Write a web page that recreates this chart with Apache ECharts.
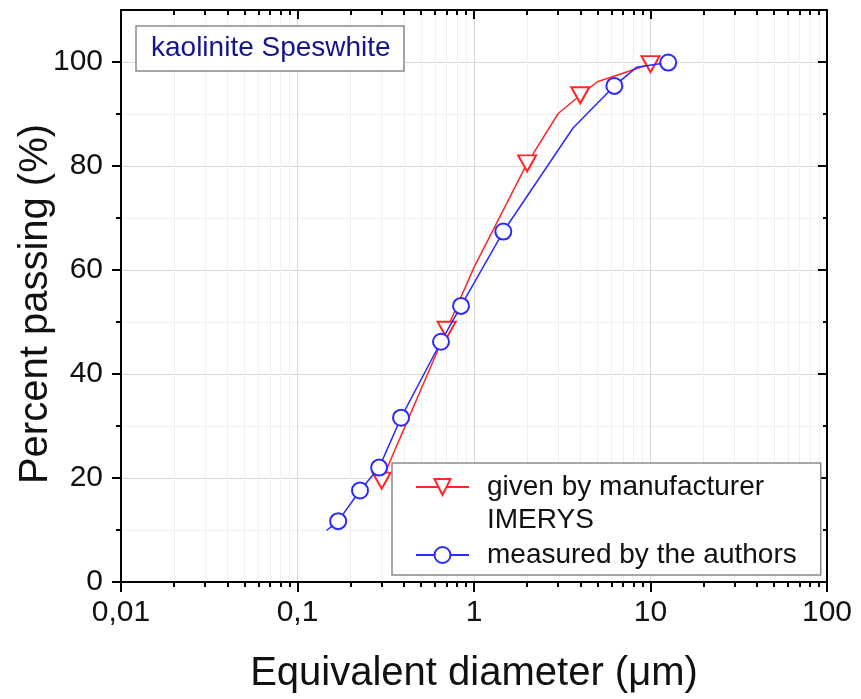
<!DOCTYPE html>
<html><head><meta charset="utf-8">
<script src="https://cdn.jsdelivr.net/npm/echarts@6/dist/echarts.min.js"></script>
<style>html,body{margin:0;padding:0;background:#fff}#c{width:861px;height:699px}</style>
</head><body><div id="c"></div>
<script>
const FONT = '"Liberation Sans", Arial, Helvetica, sans-serif';

// ---- tick definitions ----
const xTickLabels = ['0,01', '0,1', '1', '10', '100'];
const xDecadesLog = [-2, -1, 0, 1, 2];
const xDecadeStarts = [0.01, 0.1, 1, 10];
const xMinorMult = [2, 3, 4, 5, 6, 7, 8, 9];
const yTicks = [0, 20, 40, 60, 80, 100];
const yMinorTicks = [10, 30, 50, 70, 90];

// ---- data: given by manufacturer IMERYS ----
const manufacturerX = [0.3, 0.7, 1, 2, 3, 4, 5, 10];
const manufacturerY = [19.5, 48.5, 60.5, 80.5, 90.1, 93.6, 96.2, 99.6];
const manufacturerMarker = [1, 1, 0, 1, 0, 1, 0, 1];

// ---- data: measured by the authors ----
const authorsX = [0.146, 0.17, 0.226, 0.29, 0.386, 0.65, 0.844, 1.466, 3.64, 6.24, 8.36, 12.6];
const authorsY = [9.9, 11.7, 17.6, 22.0, 31.6, 46.2, 53.1, 67.4, 87.3, 95.4, 99.0, 99.9];
const authorsMarker = [0, 1, 1, 1, 1, 1, 1, 1, 0, 1, 0, 1];

const seriesNames = ['given by manufacturer', 'measured by the authors'];
const extraLegendLine = 'IMERYS';
const titleText = 'kaolinite Speswhite';
const xName = 'Equivalent diameter (\u03bcm)';
const yName = 'Percent passing (%)';

const xMinorLog = [];
xDecadeStarts.forEach(d => xMinorMult.forEach(m => xMinorLog.push(Math.log10(d * m))));

function buildData(xs, ys, marks) {
  return xs.map((x, i) => marks[i] ? { value: [x, ys[i]] } : { value: [x, ys[i]], symbol: 'none' });
}

const RED = '#ff2626';
const BLUE = '#2a2aff';
const AX = { color: '#000', width: 2 };
const LINE = (show) => ({ show: show, onZero: false, lineStyle: AX });

const chart = echarts.init(document.getElementById('c'), null, { renderer: 'canvas' });
chart.setOption({
  animation: false,
  backgroundColor: '#fff',
  title: {
    text: titleText, left: 136, top: 26, padding: [7, 14, 7, 15],
    borderColor: '#8a8a8a', borderWidth: 1.5, backgroundColor: '#fff',
    textStyle: { fontSize: 28, fontWeight: 'normal', color: '#14148c', fontFamily: FONT, lineHeight: 31 }
  },
  grid: { left: 121, right: 34, top: 10, bottom: 117, containLabel: false, outerBoundsMode: 'none' },
  legend: {
    orient: 'vertical', left: 392, top: 463, padding: [9, 24, 5, 23],
    itemWidth: 53, itemHeight: 20, itemGap: 38, selectedMode: false,
    borderColor: '#8a8a8a', borderWidth: 1.5, backgroundColor: '#fff',
    textStyle: { fontSize: 28, lineHeight: 30, fontFamily: FONT, color: '#111', padding: [0, 0, 0, 13] },
    data: seriesNames
  },
  graphic: [{
    type: 'text', x: 487, y: 520, z: 100,
    style: { text: extraLegendLine, fontSize: 28, fontFamily: FONT, fill: '#111', verticalAlign: 'middle' }
  }],
  xAxis: [
    {
      type: 'log', logBase: 10, min: 0.01, max: 100, position: 'bottom',
      axisLine: LINE(true),
      axisTick: { show: true, inside: false, length: 10, lineStyle: AX },
      minorTick: { show: false },
      axisLabel: {
        fontSize: 30, margin: 16, color: '#111', fontFamily: FONT,
        formatter: v => xTickLabels[Math.round(Math.log10(v)) + 2]
      },
      splitLine: { show: true, lineStyle: { color: '#d8d8d8', width: 1 } },
      name: xName, nameLocation: 'middle', nameGap: 72, nameMoveOverlap: false,
      nameTextStyle: { fontSize: 40, fontFamily: FONT, color: '#111' }
    },
    {
      type: 'value', min: -2, max: 2, position: 'bottom',
      axisLine: LINE(false),
      axisTick: { show: true, inside: false, length: 5, customValues: xMinorLog, lineStyle: AX },
      axisLabel: { show: false },
      splitLine: { show: true, lineStyle: { color: '#efefef', width: 1 } }
    },
    {
      type: 'value', min: -2, max: 2, position: 'top',
      axisLine: LINE(true),
      axisTick: { show: true, inside: true, length: 9, customValues: xDecadesLog, lineStyle: AX },
      axisLabel: { show: false },
      splitLine: { show: false }
    },
    {
      type: 'value', min: -2, max: 2, position: 'top',
      axisLine: LINE(false),
      axisTick: { show: true, inside: true, length: 5, customValues: xMinorLog, lineStyle: AX },
      axisLabel: { show: false },
      splitLine: { show: false }
    }
  ],
  yAxis: [
    {
      type: 'value', min: 0, max: 110, position: 'left',
      axisLine: LINE(true),
      axisTick: { show: true, inside: false, length: 9, customValues: yTicks, lineStyle: AX },
      axisLabel: { customValues: yTicks, fontSize: 30, margin: 18, color: '#111', fontFamily: FONT },
      splitLine: { show: true, lineStyle: { color: '#d8d8d8', width: 1 } },
      name: yName, nameLocation: 'middle', nameGap: 65, nameRotate: 90, nameMoveOverlap: false,
      nameTextStyle: { fontSize: 40, fontFamily: FONT, color: '#111', padding: [0, 16, 0, 0] }
    },
    {
      type: 'value', min: 0, max: 110, position: 'left',
      axisLine: LINE(false),
      axisTick: { show: true, inside: false, length: 5, customValues: yMinorTicks, lineStyle: AX },
      axisLabel: { show: false },
      splitLine: { show: true, lineStyle: { color: '#efefef', width: 1 } }
    },
    {
      type: 'value', min: 0, max: 110, position: 'right',
      axisLine: LINE(true),
      axisTick: { show: true, inside: true, length: 9, customValues: yTicks, lineStyle: AX },
      axisLabel: { show: false },
      splitLine: { show: false }
    },
    {
      type: 'value', min: 0, max: 110, position: 'right',
      axisLine: LINE(false),
      axisTick: { show: true, inside: true, length: 4, customValues: yMinorTicks, lineStyle: AX },
      axisLabel: { show: false },
      splitLine: { show: false }
    }
  ],
  series: [
    {
      name: seriesNames[0], type: 'line', xAxisIndex: 0, yAxisIndex: 0,
      data: buildData(manufacturerX, manufacturerY, manufacturerMarker),
      symbol: 'emptyTriangle', symbolRotate: 180, symbolSize: [18, 16], showAllSymbol: true,
      lineStyle: { color: RED, width: 1.5 },
      itemStyle: { color: RED, borderColor: RED, borderWidth: 1.5 },
      z: 3
    },
    {
      name: seriesNames[1], type: 'line', xAxisIndex: 0, yAxisIndex: 0,
      data: buildData(authorsX, authorsY, authorsMarker),
      symbol: 'emptyCircle', symbolSize: 16, showAllSymbol: true,
      lineStyle: { color: BLUE, width: 1.5 },
      itemStyle: { color: BLUE, borderColor: BLUE, borderWidth: 1.5 },
      z: 4
    }
  ]
});
</script>
</body></html>
